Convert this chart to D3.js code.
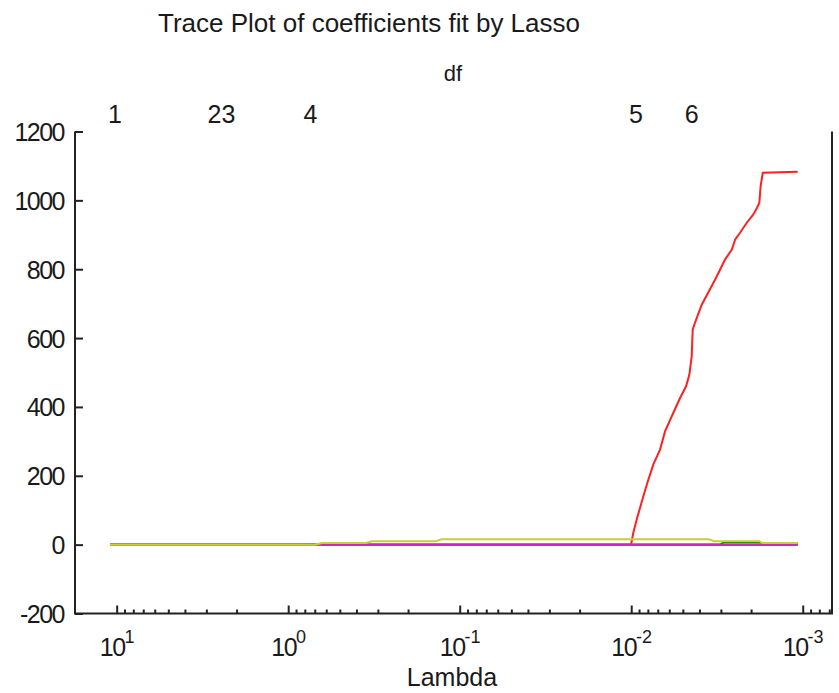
<!DOCTYPE html>
<html>
<head>
<meta charset="utf-8">
<script src="https://cdn.jsdelivr.net/npm/d3@7"></script>
<style>
  body { margin: 0; background: #fff; }
  svg { display: block; }
  text { font-family: "Liberation Sans", Arial, Helvetica, sans-serif; fill: #1a1a1a; }
</style>
</head>
<body>
<svg width="839" height="693"></svg>
<script>
// data
var lambdaBlue = [10.94, 0.00107];
var coefBlue = [0, 0];
var lambdaGreen = [10.94, 0.00303, 0.00288, 0.00179, 0.00173, 0.00107];
var coefGreen = [0, 0, 7, 7, 4, 4];
var lambdaRed = [10.94, 0.01002, 0.00973, 0.00929, 0.00849, 0.00794, 0.00743, 0.00679, 0.00635, 0.00568, 0.00519,
  0.00479, 0.00458, 0.00444, 0.00438, 0.00425, 0.00388, 0.00348, 0.00324, 0.00303, 0.00284,
  0.00259, 0.00248, 0.00232, 0.00212, 0.00194, 0.00185, 0.00179, 0.00176, 0.00171, 0.00107];
var coefRed = [0, 0, 34, 73, 141, 189, 233, 276, 329, 383, 426,
  460, 494, 547, 625, 644, 697, 741, 770, 799, 828,
  857, 886, 906, 935, 959, 978, 993, 1041, 1080, 1083];
var lambdaCyan = [10.94, 0.00107];
var coefCyan = [0, 0];
var lambdaMagenta = [10.94, 0.00107];
var coefMagenta = [0, 0];
var lambdaYellow = [10.94, 0.698, 0.635, 0.352, 0.324, 0.1375, 0.1268, 0.00352, 0.00329, 0.00179, 0.00173, 0.00107];
var coefYellow = [0, 0, 5, 5, 10, 10, 16, 16, 10, 10, 5, 5];

var dfLabels = ['1', '2', '3', '4', '5', '6'];
var dfLambda = [10.23, 2.69, 2.23, 0.741, 0.00938, 0.00444];

var yTicks = [-200, 0, 200, 400, 600, 800, 1000, 1200];
var xMajor = [10, 1, 0.1, 0.01, 0.001];
var xExpo = ['1', '0', '-1', '-2', '-3'];

var series = [
  {l: lambdaBlue, v: coefBlue, c: '#0000ff'},
  {l: lambdaGreen, v: coefGreen, c: '#008000'},
  {l: lambdaRed, v: coefRed, c: '#ff2020'},
  {l: lambdaCyan, v: coefCyan, c: '#00bfbf'},
  {l: lambdaMagenta, v: coefMagenta, c: '#cc22cc'},
  {l: lambdaYellow, v: coefYellow, c: '#cccc33'}
];

var svg = d3.select('svg');
var L = 75, R = 832, T = 131.5, B = 613.5;

var x = d3.scaleLog().domain([17.5, 0.000675]).range([L, R]);
var y = d3.scaleLinear().domain([-200, 1200]).range([B, T]);

// lines
var line = d3.line().x(function(d){ return x(d[0]); }).y(function(d){ return y(d[1]); });
series.forEach(function(s){
  var pts = s.l.map(function(l, i){ return [l, s.v[i]]; });
  svg.append('path').attr('d', line(pts)).attr('fill', 'none')
    .attr('stroke', s.c).attr('stroke-width', 2);
});

// y axis, ticks inside
var ya = svg.append('g').attr('transform', 'translate(' + L + ',0)')
  .call(d3.axisLeft(y).tickValues(yTicks).tickSizeInner(-8).tickSizeOuter(0).tickPadding(11)
    .tickFormat(function(d){ return String(d); }));
ya.select('.domain').remove();
ya.selectAll('line').attr('stroke', '#222').attr('stroke-width', 2);
ya.selectAll('text').attr('font-size', 25).attr('letter-spacing', -1.5).attr('dy', '0.36em')
  .style('font-family', '"Liberation Sans", Arial, sans-serif');

// x axis, minor then major
var minor = x.ticks().filter(function(t){ return xMajor.indexOf(t) < 0; });
var xm = svg.append('g').attr('transform', 'translate(0,' + B + ')')
  .call(d3.axisBottom(x).tickValues(minor).tickSizeInner(-4).tickSizeOuter(0).tickFormat(''));
xm.select('.domain').remove();
xm.selectAll('line').attr('stroke', '#222').attr('stroke-width', 2);

var xa = svg.append('g').attr('transform', 'translate(0,' + B + ')')
  .call(d3.axisBottom(x).tickValues(xMajor).tickSizeInner(-8).tickSizeOuter(0).tickFormat(''));
xa.select('.domain').remove();
xa.selectAll('line').attr('stroke', '#222').attr('stroke-width', 2);
xa.selectAll('.tick text').remove();
xa.selectAll('.tick').append('text')
  .attr('y', 42).attr('text-anchor', 'middle').attr('fill', '#1a1a1a')
  .each(function(d, i){
    var t = d3.select(this);
    t.append('tspan').attr('font-size', 25).attr('letter-spacing', -1.5).text('10');
    t.append('tspan').attr('font-size', 18).attr('dy', -13).text(xExpo[i]);
  });

// frame: left, bottom, right
svg.append('path').attr('d', 'M' + L + ',' + T + 'V' + B + 'H' + R + 'V' + T)
  .attr('fill', 'none').attr('stroke', '#222').attr('stroke-width', 2);

// df labels on top
svg.selectAll('.df').data(dfLabels).enter().append('text')
  .attr('x', function(d, i){ return x(dfLambda[i]); }).attr('y', 123)
  .attr('text-anchor', 'middle').attr('font-size', 25).text(function(d){ return d; });

svg.append('text').attr('x', 453).attr('y', 81).attr('text-anchor', 'middle')
  .attr('font-size', 22).text('df');
svg.append('text').attr('x', 369).attr('y', 32).attr('text-anchor', 'middle')
  .attr('font-size', 26).text('Trace Plot of coefficients fit by Lasso');
svg.append('text').attr('x', 452).attr('y', 686).attr('text-anchor', 'middle')
  .attr('font-size', 25).text('Lambda');
</script>
</body>
</html>
